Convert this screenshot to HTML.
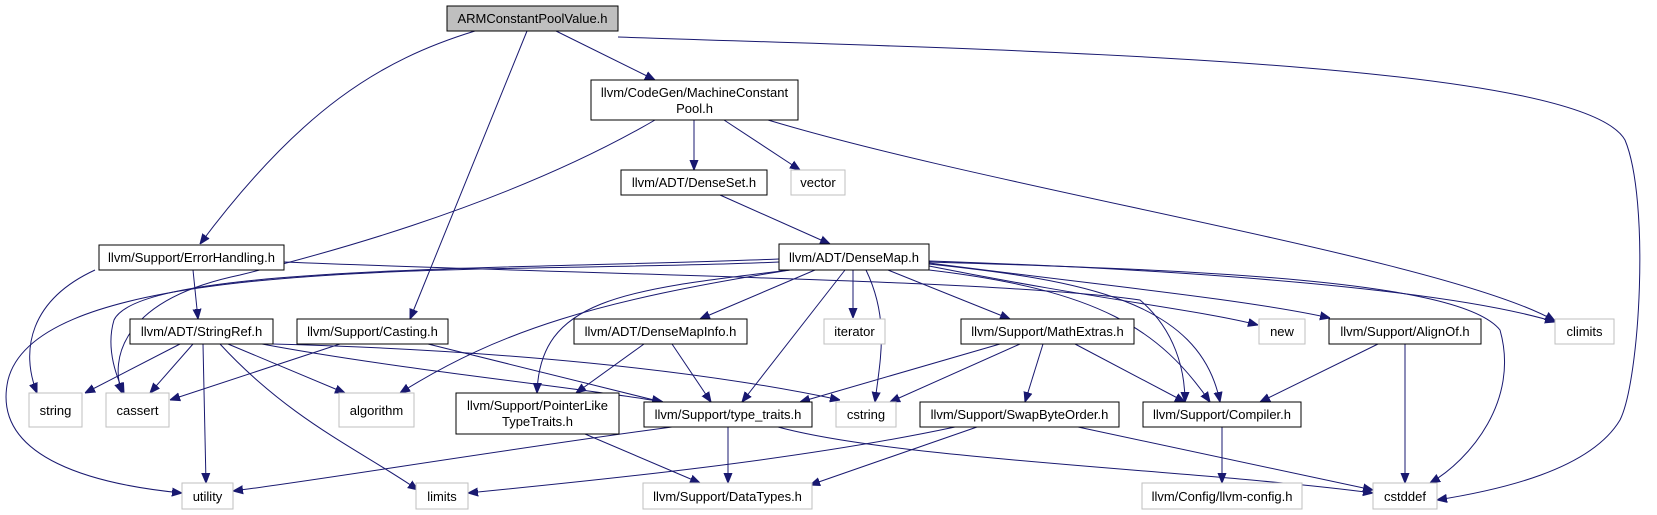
<!DOCTYPE html>
<html><head><meta charset="utf-8"><style>
html,body{margin:0;padding:0;background:#fff;}
svg{display:block;}
text{font-family:"Liberation Sans",Arial,sans-serif;font-size:13px;fill:#000;}
.n{fill:#fff;stroke:#000;stroke-width:1;}
.g{fill:#fff;stroke:#bfbfbf;stroke-width:1;}
.e{fill:none;stroke:#191970;stroke-width:1;marker-end:url(#a);}
</style></head><body>
<svg width="1657" height="515" viewBox="0 0 1657 515" xmlns="http://www.w3.org/2000/svg">
<defs><marker id="a" viewBox="0 0 10 10" refX="10" refY="5" markerWidth="10" markerHeight="10" markerUnits="userSpaceOnUse" orient="auto"><path d="M0,1 L10,5 L0,9 z" fill="#191970" stroke="#191970"/></marker></defs>

<!-- edges -->
<path class="e" d="M475,31 C380,60 300,110 200,244"/>
<path class="e" d="M527,31 L410,319"/>
<path class="e" d="M556,31 L655,80"/>
<path class="e" d="M618,37 C1000,50 1580,60 1625,140 C1650,200 1640,380 1620,420 C1590,470 1500,490 1437,500"/>
<path class="e" d="M694,120 L694,170"/>
<path class="e" d="M724,120 L800,170"/>
<path class="e" d="M768,120 C1000,190 1450,260 1555,321"/>
<path class="e" d="M655,120 C500,210 300,260 240,275 C120,300 110,360 122,393"/>
<path class="e" d="M720,195 L830,244"/>
<path class="e" d="M95,270 C30,300 20,350 37,393"/>
<path class="e" d="M193,270 L198,319"/>
<path class="e" d="M284,262 C600,275 1000,280 1140,300 C1175,330 1185,370 1185,402"/>
<!-- DenseMap edges -->
<path class="e" d="M779,262 C500,275 40,250 8,380 C-10,460 100,485 182,493"/>
<path class="e" d="M779,259 C500,270 140,265 114,320 C105,350 118,380 124,393"/>
<path class="e" d="M790,270 C600,300 500,330 400,393"/>
<path class="e" d="M790,270 C620,290 540,300 537,393"/>
<path class="e" d="M815,270 L700,319"/>
<path class="e" d="M845,270 L742,402"/>
<path class="e" d="M853,270 L853,318"/>
<path class="e" d="M866,270 C890,320 880,360 875,402"/>
<path class="e" d="M888,270 L1010,319"/>
<path class="e" d="M929,270 C1100,290 1160,330 1210,402"/>
<path class="e" d="M929,264 C1080,280 1200,300 1220,402"/>
<path class="e" d="M929,266 C1100,300 1200,310 1258,325"/>
<path class="e" d="M929,263 C1100,285 1250,300 1330,318"/>
<path class="e" d="M929,261 C1200,270 1450,290 1555,322"/>
<path class="e" d="M929,262 C1200,270 1460,280 1500,330 C1520,400 1470,460 1430,483"/>
<!-- StringRef edges -->
<path class="e" d="M180,344 L85,393"/>
<path class="e" d="M193,344 L150,393"/>
<path class="e" d="M203,344 L206,483"/>
<path class="e" d="M220,344 C290,420 360,450 418,490"/>
<path class="e" d="M228,344 L345,393"/>
<path class="e" d="M262,344 C400,370 600,390 663,402"/>
<path class="e" d="M273,344 C500,350 700,370 840,400"/>
<!-- Casting -->
<path class="e" d="M340,344 L170,400"/>
<path class="e" d="M428,344 L662,402"/>
<!-- DenseMapInfo -->
<path class="e" d="M644,344 L576,393"/>
<path class="e" d="M672,344 L711,402"/>
<!-- MathExtras -->
<path class="e" d="M1000,344 L800,402"/>
<path class="e" d="M1020,344 L890,402"/>
<path class="e" d="M1043,344 L1025,402"/>
<path class="e" d="M1075,344 L1185,402"/>
<!-- AlignOf -->
<path class="e" d="M1378,344 L1260,402"/>
<path class="e" d="M1405,344 L1405,483"/>
<!-- PointerLike -->
<path class="e" d="M585,434 L700,483"/>
<!-- type_traits -->
<path class="e" d="M672,427 C500,450 320,480 233,491"/>
<path class="e" d="M728,427 L728,483"/>
<path class="e" d="M778,427 C900,460 1200,470 1373,493"/>
<!-- SwapByteOrder -->
<path class="e" d="M955,427 C800,460 600,480 468,493"/>
<path class="e" d="M977,427 L810,485"/>
<path class="e" d="M1078,427 L1373,490"/>
<!-- Compiler -->
<path class="e" d="M1222,427 L1222,483"/>

<!-- nodes -->
<rect x="447" y="6" width="171" height="25" fill="#bfbfbf" stroke="#000"/>
<text x="532.5" y="23" text-anchor="middle">ARMConstantPoolValue.h</text>

<rect class="n" x="591" y="80" width="207" height="40"/>
<text x="694.5" y="97" text-anchor="middle">llvm/CodeGen/MachineConstant</text>
<text x="694.5" y="113" text-anchor="middle">Pool.h</text>

<rect class="n" x="621" y="170" width="146" height="25"/>
<text x="694" y="187" text-anchor="middle">llvm/ADT/DenseSet.h</text>

<rect class="g" x="791" y="170" width="54" height="25"/>
<text x="818" y="187" text-anchor="middle">vector</text>

<rect class="n" x="99" y="245" width="185" height="25"/>
<text x="191.5" y="262" text-anchor="middle">llvm/Support/ErrorHandling.h</text>

<rect class="n" x="779" y="244" width="150" height="26"/>
<text x="854" y="262" text-anchor="middle">llvm/ADT/DenseMap.h</text>

<rect class="n" x="130" y="319" width="143" height="25"/>
<text x="201.5" y="336" text-anchor="middle">llvm/ADT/StringRef.h</text>

<rect class="n" x="297" y="319" width="151" height="25"/>
<text x="372.5" y="336" text-anchor="middle">llvm/Support/Casting.h</text>

<rect class="n" x="574" y="319" width="173" height="25"/>
<text x="660.5" y="336" text-anchor="middle">llvm/ADT/DenseMapInfo.h</text>

<rect class="g" x="824" y="319" width="61" height="25"/>
<text x="854.5" y="336" text-anchor="middle">iterator</text>

<rect class="n" x="961" y="319" width="173" height="25"/>
<text x="1047.5" y="336" text-anchor="middle">llvm/Support/MathExtras.h</text>

<rect class="g" x="1259" y="319" width="46" height="25"/>
<text x="1282" y="336" text-anchor="middle">new</text>

<rect class="n" x="1329" y="319" width="152" height="25"/>
<text x="1405" y="336" text-anchor="middle">llvm/Support/AlignOf.h</text>

<rect class="g" x="1555" y="319" width="59" height="25"/>
<text x="1584.5" y="336" text-anchor="middle">climits</text>

<rect class="g" x="29" y="393" width="53" height="34"/>
<text x="55.5" y="415" text-anchor="middle">string</text>

<rect class="g" x="106" y="393" width="63" height="34"/>
<text x="137.5" y="415" text-anchor="middle">cassert</text>

<rect class="g" x="339" y="393" width="75" height="34"/>
<text x="376.5" y="415" text-anchor="middle">algorithm</text>

<rect class="n" x="456" y="393" width="163" height="41"/>
<text x="537.5" y="410" text-anchor="middle">llvm/Support/PointerLike</text>
<text x="537.5" y="426" text-anchor="middle">TypeTraits.h</text>

<rect class="n" x="644" y="402" width="168" height="25"/>
<text x="728" y="419" text-anchor="middle">llvm/Support/type_traits.h</text>

<rect class="g" x="836" y="402" width="60" height="25"/>
<text x="866" y="419" text-anchor="middle">cstring</text>

<rect class="n" x="920" y="402" width="199" height="25"/>
<text x="1019.5" y="419" text-anchor="middle">llvm/Support/SwapByteOrder.h</text>

<rect class="n" x="1143" y="402" width="158" height="25"/>
<text x="1222" y="419" text-anchor="middle">llvm/Support/Compiler.h</text>

<rect class="g" x="182" y="483" width="51" height="26"/>
<text x="207.5" y="501" text-anchor="middle">utility</text>

<rect class="g" x="416" y="483" width="52" height="26"/>
<text x="442" y="501" text-anchor="middle">limits</text>

<rect class="g" x="643" y="483" width="169" height="26"/>
<text x="727.5" y="501" text-anchor="middle">llvm/Support/DataTypes.h</text>

<rect class="g" x="1142" y="483" width="160" height="26"/>
<text x="1222" y="501" text-anchor="middle">llvm/Config/llvm-config.h</text>

<rect class="g" x="1373" y="483" width="64" height="26"/>
<text x="1405" y="501" text-anchor="middle">cstddef</text>
</svg>
</body></html>
